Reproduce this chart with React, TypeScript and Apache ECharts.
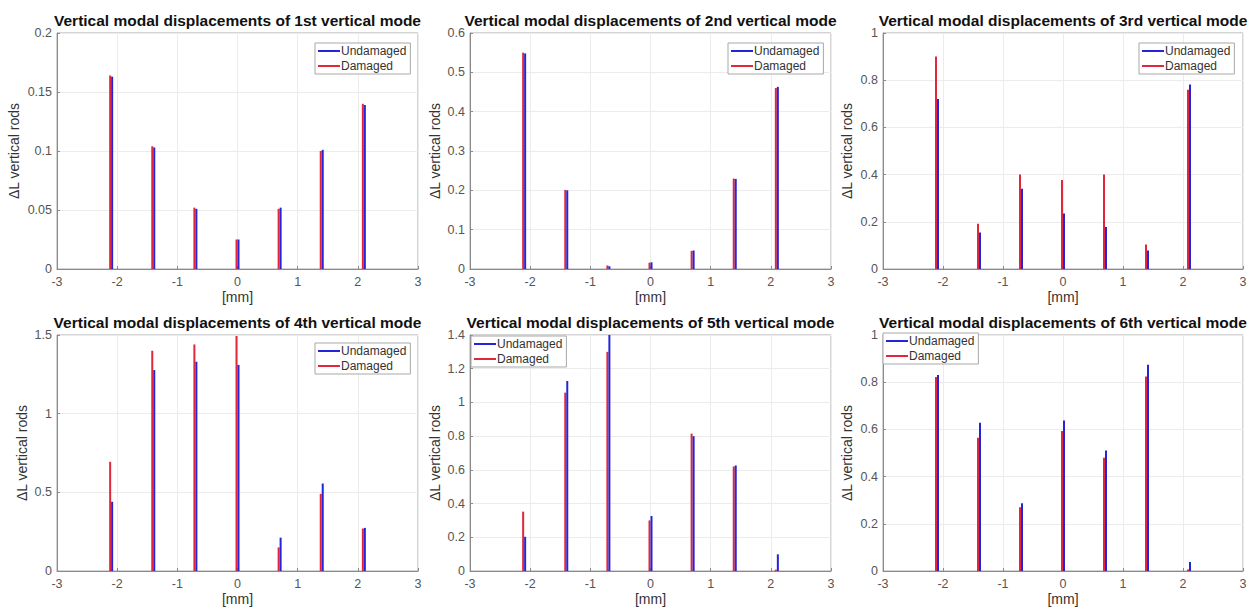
import React, { useEffect, useRef } from "react";
import * as echarts from "echarts";

// ---- data ----
const xPositions = [-2.1, -1.4, -0.7, 0, 0.7, 1.4, 2.1];
const seriesNames = ["Undamaged", "Damaged"];
const modeLabels = ["1st", "2nd", "3rd", "4th", "5th", "6th"];

const undamaged1 = [0.163, 0.103, 0.051, 0.025, 0.052, 0.101, 0.139];
const damaged1 = [0.164, 0.104, 0.052, 0.025, 0.051, 0.1, 0.14];
const undamaged2 = [0.548, 0.2, 0.007, 0.017, 0.047, 0.229, 0.463];
const damaged2 = [0.55, 0.201, 0.009, 0.016, 0.046, 0.23, 0.46];
const undamaged3 = [0.72, 0.155, 0.34, 0.235, 0.178, 0.078, 0.782];
const damaged3 = [0.9, 0.192, 0.4, 0.377, 0.4, 0.104, 0.76];
const undamaged4 = [0.44, 1.277, 1.33, 1.31, 0.212, 0.556, 0.274];
const damaged4 = [0.694, 1.4, 1.44, 1.494, 0.15, 0.49, 0.27];
const undamaged5 = [0.203, 1.127, 1.4, 0.326, 0.8, 0.626, 0.099];
const damaged5 = [0.352, 1.058, 1.3, 0.3, 0.815, 0.62, 0.008];
const undamaged6 = [0.83, 0.628, 0.287, 0.638, 0.511, 0.874, 0.038];
const damaged6 = [0.822, 0.565, 0.27, 0.593, 0.48, 0.824, 0.006];

const undamagedAll = [undamaged1, undamaged2, undamaged3, undamaged4, undamaged5, undamaged6];
const damagedAll = [damaged1, damaged2, damaged3, damaged4, damaged5, damaged6];

const yMaxes = [0.2, 0.6, 1, 1.5, 1.4, 1];
const yIntervals = [0.05, 0.1, 0.2, 0.5, 0.2, 0.2];
const xMin = -3;
const xMax = 3;
const xInterval = 1;

// ---- layout ----
const gridLefts = [57, 470, 883, 57, 470, 883];
const gridWidths = [361, 361, 360, 361, 361, 360];
const gridTops = [33, 33, 33, 335, 335, 335];
const gridHeight = 236;
const yNameGaps = [36, 28, 29, 28, 28, 29];
const legendLefts = [315, 728, 1139, 315, 471, 883];
const legendTops = [43, 43, 43, 343, 336, 333];

const FONT = "'Liberation Sans', Arial, Helvetica, sans-serif";
const BLUE = "#2424d8";
const RED = "#e3263a";

export default function App() {
  const ref = useRef<HTMLDivElement>(null);

  useEffect(() => {
    if (!ref.current) return;
    const chart = echarts.init(ref.current, undefined, { renderer: "svg" });

    const titles = modeLabels.map((m, i) => ({
      text: `Vertical modal displacements of ${m} vertical mode`,
      left: gridLefts[i] + gridWidths[i] / 2,
      top: gridTops[i] - 21,
      textAlign: "center",
      padding: 0,
      textStyle: { fontSize: 15.5, fontWeight: "bold", color: "#111", fontFamily: FONT },
    }));

    const grids = gridLefts.map((l, i) => ({
      left: l,
      top: gridTops[i],
      width: gridWidths[i],
      height: gridHeight,
      show: true,
      borderColor: "#a8a8a8",
      borderWidth: 1,
      backgroundColor: "#fff",
      containLabel: false,
    }));

    const xAxes = gridLefts.map((_, i) => ({
      type: "value",
      gridIndex: i,
      min: xMin,
      max: xMax,
      interval: xInterval,
      name: "[mm]",
      nameLocation: "middle",
      nameGap: 21,
      nameTextStyle: { fontSize: 14, color: "#333", fontFamily: FONT },
      axisLine: { show: true, onZero: false, lineStyle: { color: "#8a8a8a", width: 1 } },
      axisTick: { show: true, inside: true, length: 3, lineStyle: { color: "#8a8a8a" } },
      axisLabel: { fontSize: 12.5, color: "#555", margin: 6, fontFamily: FONT },
      splitLine: { show: true, lineStyle: { color: "#ececec", width: 1 } },
    }));

    const yAxes = gridLefts.map((_, i) => ({
      type: "value",
      gridIndex: i,
      min: 0,
      max: yMaxes[i],
      interval: yIntervals[i],
      name: "\u0394L vertical rods",
      nameLocation: "middle",
      nameGap: yNameGaps[i],
      nameTextStyle: { fontSize: 14, color: "#333", fontFamily: FONT },
      axisLine: { show: true, onZero: false, lineStyle: { color: "#8a8a8a", width: 1 } },
      axisTick: { show: true, inside: true, length: 3, lineStyle: { color: "#8a8a8a" } },
      axisLabel: { fontSize: 12.5, color: "#555", margin: 5, fontFamily: FONT },
      splitLine: { show: true, lineStyle: { color: "#ececec", width: 1 } },
    }));

    const series: any[] = [];
    for (let i = 0; i < 6; i++) {
      series.push({
        name: seriesNames[1],
        type: "bar",
        xAxisIndex: i,
        yAxisIndex: i,
        barWidth: 2,
        barGap: "0%",
        itemStyle: { color: RED },
        data: xPositions.map((x, j) => [x, damagedAll[i][j]]),
      });
      series.push({
        name: seriesNames[0],
        type: "bar",
        xAxisIndex: i,
        yAxisIndex: i,
        barWidth: 2,
        barGap: "0%",
        itemStyle: { color: BLUE },
        data: xPositions.map((x, j) => [x, undamagedAll[i][j]]),
      });
    }

    const legends = legendLefts.map((l, i) => ({
      left: l,
      top: legendTops[i],
      orient: "vertical",
      data: seriesNames,
      icon: "rect",
      itemWidth: 22,
      itemHeight: 2,
      itemGap: 3,
      padding: [2, 4, 2, 3],
      backgroundColor: "#fff",
      borderColor: "#a8a8a8",
      borderWidth: 1,
      borderRadius: 0,
      selectedMode: false,
      textStyle: { fontSize: 12, color: "#333", fontFamily: FONT, padding: [0, 0, 0, -4] },
    }));

    chart.setOption({
      animation: false,
      backgroundColor: "#fff",
      title: titles,
      grid: grids,
      xAxis: xAxes,
      yAxis: yAxes,
      legend: legends,
      series,
    });

    return () => chart.dispose();
  }, []);

  return (
    <div
      ref={ref}
      style={{ position: "fixed", left: 0, top: 0, width: 1256, height: 612, background: "#fff" }}
    />
  );
}
